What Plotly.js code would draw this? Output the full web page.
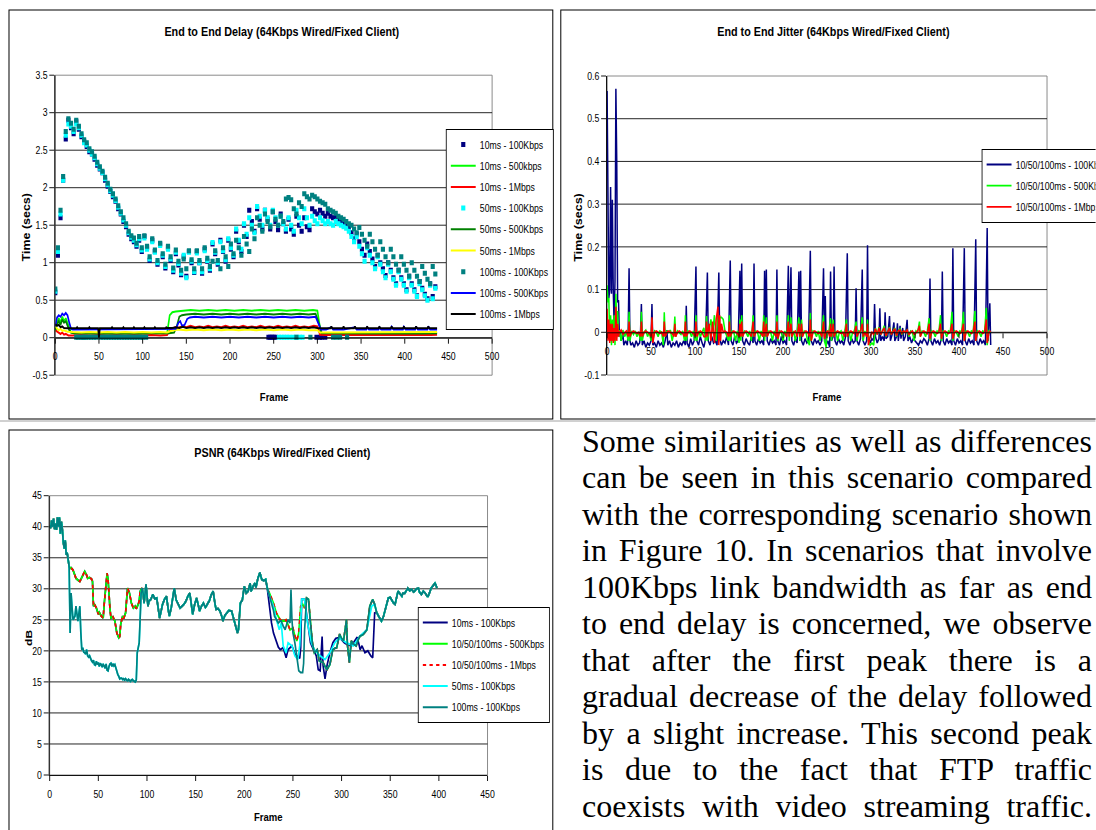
<!DOCTYPE html>
<html>
<head>
<meta charset="utf-8">
<script src="https://cdn.plot.ly/plotly-3.0.1.min.js"></script>
<style>
  html, body { margin: 0; padding: 0; background: #fff; }
  #wrap { position: relative; width: 1096px; height: 830px; overflow: hidden; }
  #chart { position: absolute; left: 0; top: 0; height: 830px; transform-origin: 0 0; }
  #para { position: absolute; left: 582px; top: 422.6px; width: 510px; z-index: 10;
          font-family: "Liberation Serif", "Times New Roman", serif; font-size: 32px;
          line-height: 36.5px; color: #000; }
  #para .ln { text-align: justify; text-align-last: justify; }
</style>
</head>
<body>
<div id="wrap">
  <div id="chart"></div>
  <div id="para"></div>
</div>
<script>
// ---------------- DATA ----------------
// Chart 1: End to End Delay
const delayFrames = [0,3,6,9,12,15,18,21,24,27,30,33,36,39,42,45,48,51,54,57,60,63,66,69,72,75,78,81,84,87,90,93,96,99,102,105,108,111,114,117,120,123,126,129,132,135,138,141,144,147,150,153,156,159,162,165,168,171,174,177,180,183,186,189,192,195,198,201,204,207,210,213,216,219,222,225,228,231,234,237,240,243,246,249,252,255,258,261,264,267,270,273,276,279,282,285,288,291,294,297,300,303,306,309,312,315,318,321,324,327,330,333,336,339,342,345,348,351,354,357,360,363,366,369,372,375,378,381,384,387,390,393,396,399,402,405,408,411,414,417,420,423,426,429,432,435];
const delay10ms100k = [0.6,1.1,1.6,2.1,2.65,2.9,2.8,2.72,2.88,2.78,
  2.68,2.62,2.55,2.48,2.45,2.38,2.3,2.25,2.2,2.1,
  2.02,1.95,1.88,1.82,1.72,1.65,1.55,1.48,1.38,1.32,
  1.28,1.22,1.3,1.15,1.35,1.2,1.03,1.3,1.15,0.98,
  1.25,1.08,0.93,1.2,1.03,0.88,1.12,0.97,0.84,1.08,
  0.82,1.15,1.0,0.87,1.15,1.0,0.86,1.18,1.02,0.9,
  1.25,1.12,0.98,1.3,1.15,1.02,1.3,1.18,1.08,1.42,
  1.28,1.15,1.5,1.35,1.7,1.55,1.42,1.72,1.58,1.45,
  1.7,1.58,1.45,1.68,1.55,1.44,1.65,1.52,1.42,1.58,
  1.45,1.38,1.62,1.5,1.42,1.6,1.48,1.44,1.72,1.68,
  1.65,1.7,1.66,1.62,1.66,1.62,1.6,1.62,1.58,1.55,
  1.52,1.5,1.48,1.4,1.32,1.38,1.28,1.18,1.1,1.25,
  1.15,1.05,0.95,1.1,1.0,0.92,0.83,1.0,0.9,0.8,
  0.72,0.9,0.8,0.72,0.64,0.82,0.72,0.64,0.56,0.75,
  0.66,0.58,0.52,0.72,0.55,0.68];
const delay50ms100k = [0.62,1.15,1.65,2.1,2.7,2.85,2.82,2.75,2.85,2.8,
  2.7,2.6,2.57,2.5,2.45,2.4,2.32,2.26,2.2,2.12,
  2.04,1.96,1.9,1.83,1.74,1.66,1.57,1.5,1.4,1.34,
  1.3,1.24,1.32,1.17,1.33,1.18,1.05,1.28,1.14,1.0,
  1.23,1.1,0.95,1.18,1.05,0.9,1.14,0.99,0.86,1.1,
  0.8,1.14,1.02,0.88,1.13,1.0,0.88,1.16,1.03,0.92,
  1.27,1.14,1.0,1.28,1.16,1.04,1.32,1.2,1.1,1.45,
  1.3,1.18,1.52,1.38,1.6,1.5,1.4,1.75,1.62,1.5,
  1.7,1.6,1.5,1.7,1.6,1.5,1.62,1.52,1.45,1.6,
  1.5,1.42,1.7,1.6,1.52,1.72,1.6,1.5,1.62,1.56,
  1.52,1.6,1.56,1.52,1.55,1.52,1.5,1.55,1.52,1.5,
  1.48,1.46,1.42,1.35,1.28,1.35,1.22,1.12,1.02,1.2,
  1.1,1.0,0.92,1.08,0.98,0.88,0.8,0.98,0.88,0.78,
  0.7,0.88,0.78,0.7,0.62,0.8,0.7,0.62,0.55,0.72,
  0.64,0.56,0.5,0.7,0.52,0.66];
const delay100ms100k = [0.65,1.2,1.7,2.15,2.75,2.92,2.86,2.78,2.9,2.82,
  2.72,2.64,2.6,2.52,2.48,2.42,2.34,2.28,2.22,2.14,
  2.06,1.98,1.92,1.85,1.76,1.68,1.6,1.52,1.42,1.36,
  1.33,1.26,1.35,1.2,1.36,1.22,1.08,1.32,1.17,1.03,
  1.26,1.12,0.98,1.22,1.08,0.93,1.17,1.02,0.9,1.05,
  0.92,1.16,1.04,0.92,1.16,1.03,0.92,1.2,1.06,0.95,
  1.02,1.16,1.03,0.92,1.2,1.08,0.95,1.25,1.12,1.3,
  1.2,1.1,1.35,1.25,1.15,1.45,1.32,1.6,1.5,1.42,
  1.65,1.55,1.48,1.68,1.58,1.5,1.62,1.55,1.85,1.87,
  1.84,1.72,1.65,1.8,1.75,1.92,1.88,1.85,1.9,1.88,
  1.85,1.82,1.8,1.78,1.72,1.7,1.68,1.66,1.62,1.6,
  1.58,1.55,1.52,1.5,1.45,1.4,1.47,1.38,1.3,1.22,
  1.38,1.28,1.18,1.1,1.28,1.18,1.08,1.0,1.18,1.08,
  0.98,0.9,1.08,0.98,0.9,0.82,1.0,0.9,0.82,0.75,
  0.95,0.86,0.78,0.72,0.95,0.85];
// frames recorded at (near) zero delay
const lost10ms100k = [[244,0.005],[246,0.005],[248,0.005],[250,0.005],[252,0.005],[299,0.005],[303,0.005],[305,0.005],[309,0.005]];
const lost50ms100k = [[256,0.005],[259,0.005],[262,0.005],[265,0.005],[268,0.005],[272,0.005],[276,0.005],[280,0.005],[283,0.005]];
const lost100ms100k = [[24,0.005],[26,0.005],[29,0.005],[31,0.005],[33,0.005],[35,0.005],[38,0.005],[41,0.005],[44,0.005],[47,0.005],[52,0.005],[55,0.005],[58,0.005],[61,0.005],[64,0.005],[67,0.005],[70,0.005],[73,0.005],[76,0.005],[79,0.005],[82,0.005],[85,0.005],[88,0.005],[91,0.005],[94,0.005],[97,0.005],[100,0.005],[104,0.005],[276,0.005],[292,0.005],[318,0.005],[322,0.005],[326,0.005],[334,0.005]];

const delay10ms500k = [[0,0.08],[2,0.2],[4,0.26],[6,0.2],[8,0.28],[10,0.22],[12,0.26],[14,0.2],[16,0.12],[18,0.07],[22,0.055],[30,0.055],[40,0.05],[50,0.055],[60,0.05],[70,0.055],[80,0.05],[90,0.055],[100,0.05],[110,0.055],[120,0.05],[128,0.06],[131,0.3],[134,0.34],[138,0.35],[145,0.36],[155,0.37],[165,0.36],[175,0.37],[185,0.36],[195,0.37],[205,0.36],[215,0.37],[225,0.36],[235,0.37],[245,0.36],[255,0.37],[265,0.36],[275,0.37],[285,0.36],[295,0.37],[300,0.36],[304,0.06],[310,0.055],[320,0.06],[330,0.055],[340,0.06],[350,0.055],[360,0.06],[370,0.055],[380,0.06],[390,0.055],[400,0.06],[410,0.055],[420,0.06],[430,0.055],[437,0.06]];
const delay10ms1M = [[0,0.1],[2,0.08],[4,0.06],[6,0.05],[8,0.07],[10,0.04],[12,0.05],[15,0.03],[20,0.03],[30,0.035],[40,0.03],[50,0.035],[60,0.03],[70,0.035],[80,0.03],[90,0.035],[100,0.03],[110,0.035],[120,0.03],[128,0.035],[131,0.1],[134,0.12],[137,0.14],[140,0.13],[145,0.15],[150,0.14],[155,0.16],[160,0.14],[165,0.15],[170,0.14],[175,0.16],[180,0.14],[185,0.15],[190,0.14],[195,0.16],[200,0.14],[205,0.15],[210,0.14],[215,0.16],[220,0.14],[225,0.15],[230,0.14],[235,0.16],[240,0.14],[245,0.15],[250,0.14],[255,0.16],[260,0.14],[265,0.15],[270,0.14],[275,0.16],[280,0.14],[285,0.15],[290,0.14],[296,0.16],[300,0.15],[303,0.04],[310,0.035],[320,0.04],[330,0.035],[340,0.04],[350,0.035],[360,0.04],[370,0.035],[380,0.04],[390,0.035],[400,0.04],[410,0.035],[420,0.04],[430,0.035],[437,0.04]];
const delay50ms500k = [[0,0.1],[2,0.18],[4,0.22],[6,0.17],[8,0.24],[10,0.2],[12,0.22],[14,0.16],[16,0.1],[18,0.07],[22,0.06],[30,0.06],[40,0.055],[50,0.06],[60,0.055],[70,0.06],[80,0.055],[90,0.06],[100,0.055],[110,0.06],[120,0.055],[130,0.06],[136,0.07],[139,0.15],[142,0.28],[145,0.3],[150,0.31],[160,0.32],[170,0.31],[180,0.32],[190,0.31],[200,0.32],[210,0.31],[220,0.32],[230,0.31],[240,0.32],[250,0.31],[260,0.32],[270,0.31],[280,0.32],[290,0.31],[298,0.32],[302,0.18],[305,0.06],[315,0.06],[330,0.055],[345,0.06],[360,0.055],[375,0.06],[390,0.055],[405,0.06],[420,0.055],[437,0.06]];
const delay50ms1M = [[0,0.15],[2,0.12],[4,0.1],[6,0.12],[8,0.09],[10,0.1],[14,0.08],[20,0.075],[30,0.07],[40,0.075],[50,0.07],[60,0.075],[70,0.07],[80,0.075],[90,0.07],[100,0.075],[110,0.07],[120,0.075],[128,0.07],[132,0.09],[136,0.1],[140,0.11],[150,0.1],[160,0.11],[170,0.1],[180,0.11],[190,0.1],[200,0.11],[210,0.1],[220,0.11],[230,0.1],[240,0.11],[250,0.1],[260,0.11],[270,0.1],[280,0.11],[290,0.1],[300,0.1],[303,0.07],[310,0.07],[320,0.075],[330,0.07],[340,0.075],[350,0.07],[360,0.075],[370,0.07],[380,0.075],[390,0.07],[400,0.075],[410,0.07],[420,0.075],[430,0.07],[437,0.075]];
const delay100ms500k = [[0,0.15],[2,0.27],[4,0.3],[6,0.28],[8,0.32],[10,0.3],[12,0.33],[14,0.3],[16,0.2],[18,0.12],[20,0.11],[30,0.11],[40,0.115],[50,0.11],[60,0.115],[70,0.11],[80,0.115],[90,0.11],[100,0.115],[110,0.11],[120,0.115],[130,0.11],[138,0.12],[141,0.2],[143,0.22],[145,0.16],[148,0.17],[151,0.25],[154,0.27],[160,0.28],[170,0.27],[180,0.28],[190,0.27],[200,0.28],[210,0.27],[220,0.28],[230,0.27],[240,0.28],[250,0.27],[260,0.28],[270,0.27],[280,0.28],[290,0.27],[298,0.28],[301,0.2],[304,0.11],[310,0.11],[316,0.14],[318,0.11],[330,0.11],[343,0.14],[345,0.11],[356,0.11],[357,0.14],[359,0.11],[370,0.11],[371,0.14],[373,0.11],[384,0.11],[385,0.145],[387,0.11],[398,0.11],[399,0.145],[401,0.11],[412,0.11],[413,0.15],[415,0.11],[426,0.11],[427,0.15],[429,0.11],[437,0.11]];
const delay100ms1M = [[0,0.18],[2,0.16],[4,0.17],[6,0.14],[8,0.15],[10,0.13],[14,0.125],[20,0.125],[24,0.125],[25,0.14],[26,0.125],[38,0.125],[39,0.14],[40,0.125],[49,0.125],[50,0.0],[51,0.125],[64,0.125],[65,0.14],[66,0.125],[77,0.125],[78,0.14],[79,0.125],[89,0.125],[90,0.14],[91,0.125],[101,0.125],[102,0.14],[103,0.125],[113,0.125],[114,0.14],[115,0.125],[126,0.125],[127,0.14],[128,0.13],[134,0.13],[138,0.14],[142,0.13],[146,0.145],[150,0.13],[155,0.14],[160,0.13],[165,0.14],[170,0.13],[175,0.14],[180,0.13],[185,0.14],[190,0.13],[195,0.14],[200,0.13],[205,0.14],[210,0.13],[215,0.14],[220,0.13],[225,0.14],[230,0.13],[235,0.14],[240,0.13],[245,0.14],[250,0.13],[255,0.14],[260,0.13],[265,0.14],[270,0.13],[275,0.14],[280,0.13],[285,0.14],[290,0.13],[295,0.14],[300,0.13],[303,0.125],[315,0.125],[316,0.15],[317,0.125],[329,0.125],[330,0.15],[331,0.125],[342,0.125],[343,0.15],[344,0.125],[356,0.125],[357,0.15],[358,0.125],[370,0.125],[371,0.15],[372,0.125],[384,0.125],[385,0.15],[386,0.125],[398,0.125],[399,0.15],[400,0.125],[412,0.125],[413,0.15],[414,0.125],[426,0.125],[427,0.15],[428,0.125],[437,0.125]];

const delayYTicks = [-0.5,0,0.5,1,1.5,2,2.5,3,3.5];
const delayYLabels = ['-0.5','0','0.5','1','1.5','2','2.5','3','3.5'];

// Chart 2: End to End Jitter
const jitter100k = [[0,0.565],[1,0.3],[2,0.08],[3,0.1],[4,0.34],[5,0.09],[6,0.31],[7,0.1],[8,0.02],[9,0.12],[10,0.57],[11,0.4],[12,0.07],[13,0.075],[14,-0.01],[15,0.005],[16,-0.02],[18,-0.005],[19,-0.03],[21,-0.02],[23,-0.03],[24,0.0],[25,0.15],[26,-0.02],[27,-0.03],[29,-0.025],[31,-0.035],[33,-0.02],[35,-0.03],[37,-0.025],[38,0.0],[39,0.066],[40,-0.03],[42,-0.02],[44,-0.035],[46,-0.025],[48,-0.03],[50,-0.02],[51,0.066],[52,-0.03],[54,-0.025],[56,-0.035],[58,-0.02],[60,-0.03],[62,-0.025],[64,-0.035],[66,-0.02],[68,0.005],[69,-0.03],[71,-0.02],[73,-0.035],[75,-0.025],[77,-0.03],[79,-0.02],[81,-0.035],[83,-0.025],[85,-0.03],[87,-0.02],[89,-0.03],[90,0.062],[91,-0.025],[93,-0.035],[95,-0.015],[97,-0.03],[99,-0.02],[101,0.154],[102,-0.02],[104,-0.03],[106,-0.01],[108,-0.025],[110,-0.035],[112,-0.015],[114,0.14],[115,-0.02],[117,-0.03],[119,-0.01],[121,-0.025],[123,-0.02],[125,-0.03],[127,0.14],[128,-0.015],[130,-0.03],[132,-0.02],[134,-0.025],[136,-0.01],[138,-0.03],[140,0.168],[141,-0.02],[143,-0.03],[145,-0.01],[147,-0.025],[149,-0.02],[151,0.144],[152,-0.01],[153,0.161],[154,-0.02],[156,-0.03],[158,-0.015],[160,-0.025],[162,-0.03],[164,-0.01],[166,-0.025],[167,0.161],[168,-0.02],[170,-0.03],[172,-0.015],[174,-0.025],[176,-0.02],[178,-0.03],[179,0.144],[180,-0.01],[181,0.147],[182,-0.02],[184,-0.03],[186,-0.015],[188,-0.025],[190,-0.02],[192,-0.03],[193,0.147],[194,-0.02],[196,-0.03],[198,-0.01],[200,-0.025],[202,-0.02],[204,-0.03],[206,0.156],[207,-0.01],[209,0.152],[210,-0.02],[212,-0.03],[214,-0.015],[216,-0.025],[218,0.142],[219,-0.02],[220,0.144],[221,-0.02],[223,-0.03],[225,-0.015],[227,-0.025],[229,-0.02],[231,0.191],[232,-0.02],[234,-0.03],[236,-0.015],[238,-0.025],[240,-0.02],[242,-0.03],[244,-0.02],[246,0.15],[247,-0.01],[248,0.085],[249,-0.03],[251,-0.02],[253,-0.035],[254,0.142],[255,-0.02],[257,-0.01],[258,0.154],[259,-0.02],[261,-0.03],[263,-0.015],[265,-0.025],[267,-0.02],[269,-0.03],[271,-0.01],[273,0.185],[274,-0.02],[276,-0.03],[278,-0.015],[280,-0.025],[282,-0.02],[283,0.103],[284,-0.02],[286,-0.03],[288,-0.015],[290,0.147],[291,-0.02],[293,-0.03],[295,-0.02],[296,0.204],[297,-0.01],[299,-0.025],[301,-0.015],[303,-0.02],[304,0.066],[305,-0.01],[307,-0.025],[309,-0.015],[310,0.056],[311,-0.02],[313,-0.01],[315,-0.02],[316,0.047],[317,-0.015],[319,-0.01],[321,0.038],[322,-0.02],[324,-0.005],[326,0.023],[327,-0.02],[329,-0.01],[330,0.021],[331,-0.02],[333,0.015],[334,-0.015],[336,0.01],[337,-0.02],[339,-0.01],[341,0.029],[342,-0.02],[344,-0.01],[346,-0.025],[348,-0.015],[350,-0.02],[352,-0.025],[354,-0.03],[356,-0.02],[358,-0.025],[360,-0.015],[362,-0.02],[364,-0.03],[366,-0.015],[367,0.126],[368,-0.02],[370,-0.03],[372,-0.015],[374,-0.025],[376,-0.02],[378,-0.03],[380,-0.015],[381,0.142],[382,-0.02],[384,-0.03],[386,-0.015],[388,-0.025],[390,-0.02],[392,-0.03],[393,0.197],[394,-0.02],[396,-0.03],[398,-0.015],[400,-0.025],[402,-0.02],[404,-0.03],[406,0.197],[407,-0.02],[409,-0.03],[411,-0.015],[413,-0.025],[415,-0.02],[417,-0.03],[419,0.218],[420,-0.02],[422,-0.03],[424,-0.015],[426,-0.025],[428,-0.02],[430,-0.03],[432,0.244],[433,-0.02],[435,0.068],[436,-0.03]];
const jitter500k = [[0,0.11],[1,0.07],[2,0.08],[3,-0.02],[4,0.04],[5,-0.03],[6,0.03],[7,-0.02],[8,0.04],[9,-0.03],[10,0.09],[11,0.02],[12,0.05],[13,-0.01],[14,0.005],[16,-0.02],[18,0.005],[20,-0.01],[22,0.0],[24,-0.02],[25,0.048],[26,-0.02],[28,0.003],[30,-0.005],[32,0.003],[34,-0.01],[36,0.0],[38,-0.02],[39,0.048],[40,-0.02],[42,0.0],[44,0.005],[46,-0.01],[48,0.0],[50,-0.02],[51,0.03],[52,-0.02],[54,0.003],[56,0.0],[58,-0.01],[60,0.003],[62,0.0],[64,-0.03],[65,0.047],[66,-0.01],[68,0.003],[70,0.0],[72,0.005],[74,-0.02],[76,0.0],[77,0.037],[78,-0.01],[80,0.003],[82,0.0],[84,-0.005],[86,0.003],[88,-0.02],[89,0.04],[90,-0.02],[92,0.003],[94,0.0],[96,-0.01],[98,0.003],[100,-0.02],[101,0.04],[102,-0.02],[104,0.003],[106,-0.01],[108,0.0],[110,0.01],[112,-0.02],[113,0.038],[114,-0.02],[116,0.003],[118,0.03],[120,0.0],[122,0.04],[124,-0.02],[126,0.045],[127,0.02],[128,0.035],[130,0.035],[132,0.03],[134,0.003],[136,-0.01],[138,-0.02],[139,0.04],[140,-0.02],[142,0.003],[144,0.0],[146,-0.02],[148,0.003],[150,-0.025],[151,0.03],[152,-0.02],[153,0.04],[154,-0.01],[156,0.003],[158,0.0],[160,-0.01],[162,0.003],[164,-0.02],[166,0.04],[167,-0.01],[169,0.003],[171,0.0],[173,-0.02],[175,0.003],[177,-0.01],[178,0.04],[179,-0.02],[181,0.035],[182,-0.01],[184,0.003],[186,0.0],[188,-0.02],[190,0.003],[192,-0.01],[193,0.04],[194,-0.02],[196,0.003],[198,0.0],[200,-0.02],[202,0.003],[204,-0.01],[206,0.04],[207,-0.02],[209,0.035],[210,-0.01],[212,0.003],[214,-0.02],[216,0.003],[218,0.035],[219,-0.02],[221,0.03],[222,-0.01],[224,0.003],[226,0.0],[228,-0.02],[230,-0.03],[231,0.045],[232,-0.02],[234,0.003],[236,0.0],[238,-0.01],[240,0.003],[242,-0.02],[244,0.003],[246,0.04],[247,-0.02],[249,-0.035],[250,0.003],[252,0.0],[254,0.033],[255,-0.02],[257,0.03],[258,-0.01],[260,0.003],[262,-0.02],[264,0.0],[266,0.003],[268,-0.02],[270,0.0],[272,0.03],[273,-0.01],[275,0.003],[277,-0.02],[279,0.0],[281,0.003],[283,0.025],[284,-0.02],[286,0.003],[288,0.0],[290,0.035],[291,-0.02],[293,0.003],[295,-0.01],[296,0.03],[297,-0.02],[299,-0.03],[301,-0.025],[303,-0.03],[305,0.01],[307,-0.005],[309,0.012],[311,-0.005],[313,0.003],[315,0.015],[317,-0.01],[319,0.003],[321,0.012],[323,-0.005],[325,0.003],[327,0.01],[329,-0.01],[331,0.003],[333,0.008],[335,-0.005],[337,0.003],[339,0.0],[341,0.005],[343,-0.01],[345,0.003],[347,0.0],[349,-0.02],[351,0.003],[353,0.0],[355,0.025],[356,-0.01],[358,0.003],[360,0.0],[362,-0.01],[364,0.003],[366,0.033],[367,-0.02],[369,0.003],[371,0.0],[373,-0.01],[375,0.003],[377,0.0],[379,0.04],[380,-0.02],[382,0.003],[384,0.0],[386,-0.01],[388,0.003],[390,0.0],[392,0.048],[393,-0.02],[395,0.003],[397,0.0],[399,-0.01],[401,0.003],[403,0.0],[405,0.048],[406,-0.02],[408,0.003],[410,0.0],[412,-0.01],[414,0.003],[416,0.0],[418,0.05],[419,-0.02],[421,0.003],[423,0.0],[425,-0.01],[427,0.003],[429,0.0],[431,0.057],[432,-0.03],[434,0.003],[436,0.0]];
const jitter1M = [[0,0.055],[1,-0.02],[2,0.03],[3,-0.025],[4,0.02],[5,-0.02],[6,0.02],[7,-0.025],[8,0.01],[9,-0.02],[10,0.06],[11,-0.02],[12,0.02],[13,-0.01],[14,0.0],[16,0.005],[18,-0.005],[20,0.0],[22,0.003],[24,-0.01],[25,0.025],[26,-0.01],[28,0.0],[30,0.003],[32,0.0],[34,-0.003],[36,0.0],[38,-0.01],[39,0.025],[40,-0.01],[42,0.0],[44,0.003],[46,0.0],[48,-0.003],[50,-0.01],[51,0.035],[52,-0.025],[54,0.0],[56,0.003],[58,0.0],[60,-0.003],[62,0.0],[64,-0.01],[65,0.025],[66,-0.01],[68,0.0],[70,0.003],[72,0.0],[74,-0.003],[76,-0.01],[77,0.02],[78,-0.01],[80,0.0],[82,0.003],[84,0.0],[86,-0.003],[88,-0.01],[89,0.025],[90,-0.01],[92,0.0],[94,0.003],[96,0.0],[98,-0.003],[100,-0.01],[101,0.025],[102,-0.01],[104,0.0],[106,0.003],[108,0.0],[110,-0.01],[112,-0.01],[113,0.025],[114,-0.01],[116,0.02],[118,-0.02],[120,0.025],[122,-0.025],[124,0.03],[126,0.06],[127,-0.03],[128,0.04],[129,-0.02],[130,0.02],[132,0.0],[134,0.003],[136,0.0],[138,-0.01],[139,0.025],[140,-0.01],[142,0.0],[144,0.003],[146,0.0],[148,-0.003],[150,-0.01],[151,0.02],[152,-0.01],[153,0.025],[154,-0.01],[156,0.0],[158,0.003],[160,0.0],[162,-0.003],[164,-0.01],[166,0.025],[167,-0.01],[169,0.0],[171,0.003],[173,0.0],[175,-0.003],[177,-0.01],[178,0.025],[179,-0.01],[181,0.02],[182,-0.01],[184,0.0],[186,0.003],[188,0.0],[190,-0.003],[192,-0.01],[193,0.025],[194,-0.015],[196,0.0],[198,0.003],[200,0.0],[202,-0.003],[204,-0.01],[206,0.025],[207,-0.01],[209,0.02],[210,-0.01],[212,0.0],[214,0.003],[216,-0.01],[218,0.02],[219,-0.01],[221,0.02],[222,-0.01],[224,0.0],[226,0.003],[228,0.0],[230,-0.01],[231,0.03],[232,-0.02],[234,0.0],[236,0.003],[238,0.0],[240,-0.003],[242,0.0],[244,-0.01],[246,0.025],[247,-0.015],[249,0.0],[251,0.003],[253,-0.01],[254,0.02],[255,-0.01],[257,0.02],[258,-0.01],[260,0.0],[262,0.003],[264,0.0],[266,-0.003],[268,0.0],[270,-0.01],[272,0.02],[273,-0.01],[275,0.0],[277,0.003],[279,0.0],[281,-0.003],[283,0.015],[284,-0.01],[286,0.0],[288,0.003],[290,0.02],[291,-0.01],[293,0.0],[295,-0.01],[296,0.02],[297,-0.03],[298,-0.02],[299,-0.01],[301,0.0],[303,-0.005],[305,0.008],[307,-0.005],[309,0.01],[311,-0.005],[313,0.003],[315,0.01],[317,-0.008],[319,0.003],[321,0.01],[323,-0.005],[325,0.003],[327,0.008],[329,-0.008],[331,0.003],[333,0.005],[335,-0.003],[337,0.003],[339,0.0],[341,0.005],[343,-0.005],[345,0.0],[347,0.003],[349,-0.005],[351,0.0],[353,0.003],[355,0.015],[356,-0.01],[358,0.0],[360,0.003],[362,0.0],[364,-0.003],[366,0.02],[367,-0.015],[369,0.0],[371,0.003],[373,0.0],[375,-0.003],[377,0.0],[379,0.02],[380,-0.015],[382,0.0],[384,0.003],[386,0.0],[388,-0.003],[390,0.0],[392,0.02],[393,-0.015],[395,0.0],[397,0.003],[399,0.0],[401,-0.003],[403,0.0],[405,0.02],[406,-0.02],[408,0.0],[410,0.003],[412,0.0],[414,-0.003],[416,0.0],[418,0.025],[419,-0.02],[421,0.0],[423,0.003],[425,0.0],[427,-0.003],[429,0.0],[431,0.03],[432,-0.025],[434,0.0],[436,0.003]];

const jitterYTicks = [-0.1,0,0.1,0.2,0.3,0.4,0.5,0.6];
const jitterYLabels = ['-0.1','0','0.1','0.2','0.3','0.4','0.5','0.6'];

// Chart 3: PSNR
const psnrStart = [[0,40.2],[1,39.8],[2,41],[3,40],[4,41.3],[5,39.6],[6,40.5],[7,39.5],[8,41.5],[9,40],[10,41.5],[11,38.9],[12,40.8],[13,39.6],[14,37.5],[15,36.5],[16,37.8],[17,35.5],[18,35.8],[19,34.8],[20,33.6]];
const psnrDropEarly = [[21,22.9],[22,29.3],[23,27],[24,25],[26,25.6],[27,27.2],[29,24.8],[31,27.2],[32,23],[33,20.2],[34,20.5],[35,19.8],[36,19.7],[37,19.5],[38,20.2],[39,19.2],[40,19],[41,19.2],[43,18.4],[44,18.2],[45,18.5],[46,17.8],[47,17.7],[48,18.3],[49,17.8],[50,18.1],[51,17.5],[52,17.9],[53,17.8],[54,17.4],[55,17.8],[56,17.6],[57,17.2],[58,17.9],[59,16.9],[60,16.8],[61,17.5],[62,17.9],[63,18],[64,17.5],[65,17.9],[66,17.6],[67,17.8],[68,17.2],[69,16.6],[70,16.2],[71,15.9],[72,15.5],[73,15.6],[74,15.6],[75,15.4],[76,15.5],[77,15.3],[78,15.5],[79,15.3],[80,15.2],[81,15.4],[82,15.3],[83,15.1],[84,15.3],[85,15.4],[86,15.2],[87,15.1],[88,15],[89,15.3],[90,19.7],[92,21.3],[93,25.6],[94,29.3]];
const psnrUpperEarly = [[21,33.3],[22,33.4],[24,33],[25,32.5],[26,32.2],[27,31.7],[29,31.4],[31,31.2],[32,31.5],[34,32.2],[36,32.8],[38,32.2],[39,31.7],[41,31.8],[43,31.6],[44,31.2],[45,27.2],[46,27.5],[48,26.9],[50,25.9],[51,26.2],[53,25.6],[55,25.3],[56,27.5],[58,30.4],[59,32.5],[60,31.5],[61,28.3],[62,26.7],[63,25.3],[65,25.5],[67,24.8],[69,22.9],[71,22.1],[72,22.3],[73,24.3],[75,25.6],[76,25.2],[78,26.1],[80,30.1],[81,29.8],[82,29.3],[84,27.7],[86,26.9],[88,27.2],[89,26.8],[91,27.5],[92,28],[93,29.6]];
const psnrMid = [[95,30.1],[96,29.3],[97,27.7],[98,29],[99,30.7],[101,27.2],[102,28],[104,28.3],[106,29.1],[108,28.4],[110,28.5],[113,25.3],[115,26.5],[116,27.5],[118,28.3],[120,28.8],[122,26.5],[123,25.6],[125,27],[128,30.1],[130,28.2],[132,27.5],[134,26.9],[136,27.2],[138,27.5],[140,28],[142,28.8],[144,29.3],[146,27],[147,25.9],[149,27.5],[151,28.5],[153,27.2],[154,26.4],[156,27.2],[158,27.7],[160,27],[161,27.2],[163,27.8],[164,28],[166,29],[168,29.6],[170,27.5],[171,26.7],[173,26.8],[175,26.4],[177,25.5],[178,24.8],[180,25.7],[182,26.1],[184,26.5],[187,26.4],[189,25.2],[190,24.3],[192,23.5],[193,22.9],[194,23.4],[196,27.7],[198,28.2],[200,30.4],[202,29.3],[204,29.6],[206,30.9],[207,29.6],[209,30.4],[211,30.9],[212,30.2],[214,31.7],[216,32.6],[218,31.5],[220,31.3],[222,31.5]];
const psnrLate10ms100k = [[224,29.6],[226,27.2],[228,24.5],[230,22.9],[233,21.6],[235,20.6],[237,20.2],[240,20.5],[243,18.9],[245,20.2],[247,20.5],[249,20.8],[252,19.5],[255,19],[257,18.8],[258,20.5],[259,28.3],[262,28.3],[265,24.5],[268,21.3],[271,20.2],[274,19.2],[276,17],[278,16.8],[280,22.3],[281,17.6],[283,15.5],[285,17.6],[288,19.7],[291,21.3],[294,22],[297,22.1],[300,21.8],[303,21.3],[306,21],[310,20.8],[313,21.5],[316,22.2],[318,21],[319,20.2],[321,20.8],[324,19.7],[327,20],[330,19.2],[332,18.9],[334,26.1]];
const psnrLate500k1M = [[224,29.9],[226,29.3],[230,27.7],[233,26.1],[237,25],[240,24.8],[243,25],[247,23.4],[250,23.7],[252,22.4],[254,21.6],[256,22.9],[258,27.2],[260,27.5],[262,26.9],[264,28.5],[266,28.3],[268,24.5],[270,21.3],[272,19.7],[275,20.2],[277,18.4],[279,18.2],[281,18.1],[283,17.5],[285,17],[288,17.8],[291,20.2],[293,20.4],[295,20.5],[298,22.7],[300,22],[302,21.6],[305,25],[306,21],[308,18.1],[310,21.6],[313,21],[315,20.8],[317,21.8],[319,22.4],[322,22.6],[324,23],[326,23.4],[329,27.2],[332,28.3],[334,27.5]];
const psnrLate50ms100k = [[224,29.9],[226,28.8],[230,27.2],[233,25],[236,23.4],[238,24.5],[240,20.8],[243,19.7],[245,21.3],[249,20.8],[252,19.2],[255,18.6],[257,20.8],[259,28.3],[262,28.3],[265,24.5],[269,21.3],[272,20.2],[278,19.2],[283,18.6],[288,19.7],[293,21.3],[298,22.1],[305,21.3],[312,20.8],[319,22.4],[326,23.4],[331,27.2],[334,27.5]];
const psnrLate100ms100k = [[224,29.9],[226,28.8],[228,27.5],[230,26.5],[231,25.6],[233,25],[235,24.5],[237,24.8],[238,24.8],[240,24],[242,23.4],[244,24.5],[245,25],[247,24.5],[248,29.9],[249,25],[250,22.9],[252,21.3],[254,18.9],[256,16.8],[258,16.5],[260,16.5],[261,18],[262,23.4],[264,28.5],[266,28.3],[268,24.5],[270,21.3],[272,19.7],[275,20.2],[277,18.4],[279,18.2],[281,18.1],[283,17.5],[285,17],[288,17.8],[291,20.2],[293,20.4],[295,20.5],[298,22.7],[300,22],[302,21.6],[305,25],[306,21],[308,18.1],[310,21.6],[313,21],[315,20.8],[317,21.8],[319,22.4],[322,22.6],[324,23],[326,23.4],[329,27.2],[332,28.3],[334,27.5]];
const psnrEnd = [[336,26.2],[338,25.6],[341,24.8],[343,25.5],[344,26.1],[346,27.5],[348,28.5],[350,28.6],[351,28.3],[353,27.8],[355,27.5],[357,28.8],[358,29.6],[360,29.2],[362,28.8],[363,29.3],[365,29.3],[367,29.8],[368,30.1],[370,29.7],[372,29.9],[374,29.5],[375,29.6],[377,30],[379,30.1],[380,29.5],[382,29.1],[384,29.6],[386,29.3],[388,28.8],[389,28.8],[391,29.6],[392,30.1],[394,30.5],[396,30.9],[397,30.6],[398,30.1]];

const paragraphLines = [
  'Some similarities as well as differences',
  'can be seen in this scenario compared',
  'with the corresponding scenario shown',
  'in Figure 10. In scenarios that involve',
  '100Kbps link bandwidth as far as end',
  'to end delay is concerned, we observe',
  'that after the first peak there is a',
  'gradual decrease of the delay followed',
  'by a slight increase. This second peak',
  'is due to the fact that FTP traffic',
  'coexists with video streaming traffic.'
];

// ---------------- BUILD ----------------
const FONT = '"Liberation Sans", Arial, sans-serif';
const W = 1096, H = 830;
const SX = 0.83;                 // horizontal condensing of the chart drawing
const LW = W / SX;               // layout width before condensing
const PX = x => x / W;
const PY = y => 1 - y / H;
const xs = p => p.map(d => d[0]);
const ys = p => p.map(d => d[1]);

const chartDiv = document.getElementById('chart');
chartDiv.style.width = LW + 'px';
chartDiv.style.transform = 'scaleX(' + SX + ')';

const traces = [];
function markerTrace(name, vals, lost, color, grp) {
  traces.push({
    type: 'scatter', mode: 'markers', name: name,
    x: delayFrames.concat(xs(lost)), y: vals.concat(ys(lost)),
    marker: { symbol: 'square', size: 5, color: color, line: { width: 0 } },
    xaxis: 'x', yaxis: 'y', legend: 'legend', legendgroup: grp
  });
}
function lineTrace(name, pts, color, ax, ay, leg, grp, width, dash) {
  traces.push({
    type: 'scatter', mode: 'lines', name: name,
    x: xs(pts), y: ys(pts),
    line: { color: color, width: width, dash: dash || 'solid' },
    xaxis: ax, yaxis: ay, legend: leg, legendgroup: grp
  });
}

// Chart 1
markerTrace('10ms - 100Kbps', delay10ms100k, lost10ms100k, '#000080', 'a1');
lineTrace('10ms - 500kbps', delay10ms500k, '#00FF00', 'x', 'y', 'legend', 'a2', 2);
lineTrace('10ms - 1Mbps', delay10ms1M, '#FF0000', 'x', 'y', 'legend', 'a3', 2);
markerTrace('50ms - 100Kbps', delay50ms100k, lost50ms100k, '#00FFFF', 'a4');
lineTrace('50ms - 500Kbps', delay50ms500k, '#008000', 'x', 'y', 'legend', 'a5', 2);
lineTrace('50ms - 1Mbps', delay50ms1M, '#FFFF00', 'x', 'y', 'legend', 'a6', 2);
markerTrace('100ms - 100Kbps', delay100ms100k, lost100ms100k, '#008080', 'a7');
lineTrace('100ms - 500Kbps', delay100ms500k, '#0000FF', 'x', 'y', 'legend', 'a8', 2);
lineTrace('100ms - 1Mbps', delay100ms1M, '#000000', 'x', 'y', 'legend', 'a9', 2);

// Chart 2
lineTrace('10/50/100ms - 100Kbps', jitter100k, '#000080', 'x2', 'y2', 'legend2', 'b1', 1.8);
lineTrace('10/50/100ms - 500Kbps', jitter500k, '#00FF00', 'x2', 'y2', 'legend2', 'b2', 1.8);
lineTrace('10/50/100ms - 1Mbps', jitter1M, '#FF0000', 'x2', 'y2', 'legend2', 'b3', 1.8);

// Chart 3
const psnr10ms100k = psnrStart.concat(psnrUpperEarly, psnrMid, psnrLate10ms100k, psnrEnd);
const psnr500k = psnrStart.concat(psnrUpperEarly, psnrMid, psnrLate500k1M, psnrEnd);
const psnr1M = psnrStart.concat(psnrUpperEarly, psnrMid, psnrLate500k1M, psnrEnd);
const psnr50ms100k = psnrStart.concat(psnrDropEarly, psnrMid, psnrLate50ms100k, psnrEnd);
const psnr100ms100k = psnrStart.concat(psnrDropEarly, psnrMid, psnrLate100ms100k, psnrEnd);
lineTrace('10ms - 100Kbps', psnr10ms100k, '#000080', 'x3', 'y3', 'legend3', 'c1', 2);
lineTrace('10/50/100ms - 500Kbps', psnr500k, '#00FF00', 'x3', 'y3', 'legend3', 'c2', 2);
lineTrace('10/50/100ms - 1Mbps', psnr1M, '#FF0000', 'x3', 'y3', 'legend3', 'c3', 2, '4px,4px');
lineTrace('50ms - 100Kbps', psnr50ms100k, '#00FFFF', 'x3', 'y3', 'legend3', 'c4', 2);
lineTrace('100ms - 100Kbps', psnr100ms100k, '#008080', 'x3', 'y3', 'legend3', 'c5', 2);

const tickFont = { family: FONT, size: 10.5, color: '#000' };
function xAxis(domain, range, extra) {
  return Object.assign({
    domain: domain, range: range, dtick: 50, tick0: 0,
    showline: true, linecolor: '#000', linewidth: 1,
    ticks: 'outside', ticklen: 5, tickcolor: '#000', tickwidth: 1,
    ticklabelstandoff: 4,
    showgrid: false, zeroline: false, tickfont: tickFont, fixedrange: true
  }, extra);
}
function yAxis(domain, range, extra) {
  return Object.assign({
    domain: domain, range: range,
    showline: true, linecolor: '#000', linewidth: 1.2,
    ticks: 'outside', ticklen: 6, tickcolor: '#000', tickwidth: 1,
    showgrid: true, gridcolor: '#111', gridwidth: 1,
    zeroline: false, tickfont: tickFont, fixedrange: true
  }, extra);
}

const legendBase = {
  xanchor: 'left', yanchor: 'top', bgcolor: '#fff', bordercolor: '#000', borderwidth: 1,
  font: { family: FONT, size: 10.5, color: '#000' }, tracegroupgap: 2.2, traceorder: 'grouped',
  itemwidth: 30
};

const annFont = (sz, bold) => ({ family: FONT, size: sz, color: '#000', weight: bold ? 'bold' : 'normal' });
const annotations = [
  { text: 'End to End Delay (64Kbps Wired/Fixed Client)', x: PX(282), y: PY(32), font: annFont(13, true) },
  { text: 'End to End Jitter (64Kbps Wired/Fixed Client)', x: PX(833.5), y: PY(32), font: annFont(13, true) },
  { text: 'PSNR (64Kbps Wired/Fixed Client)', x: PX(282), y: PY(452), font: annFont(13, true) },
  { text: 'Frame', x: PX(274), y: PY(397), font: annFont(11.5, true) },
  { text: 'Frame', x: PX(827), y: PY(397), font: annFont(11.5, true) },
  { text: 'Frame', x: PX(269), y: PY(817), font: annFont(11.5, true) },
  { text: 'Time (secs)', x: PX(27), y: PY(227), textangle: -90, font: annFont(12.5, true) },
  { text: 'Time (secs)', x: PX(578.5), y: PY(227), textangle: -90, font: annFont(12.5, true) },
  { text: 'dB', x: PX(29), y: PY(638), textangle: -90, font: annFont(12, true) }
].map(a => Object.assign({ xref: 'paper', yref: 'paper', xanchor: 'center', yanchor: 'middle', showarrow: false }, a));

const shapes = [
  // chart frames
  { type: 'rect', xref: 'paper', yref: 'paper', x0: PX(9), x1: PX(553), y0: PY(419), y1: PY(10), line: { color: '#000', width: 1.2 } },
  { type: 'rect', xref: 'paper', yref: 'paper', x0: PX(561), x1: PX(1110), y0: PY(419), y1: PY(10), line: { color: '#000', width: 1.2 } },
  { type: 'rect', xref: 'paper', yref: 'paper', x0: PX(9), x1: PX(553), y0: PY(840), y1: PY(430), line: { color: '#000', width: 1.2 } },
  { type: 'line', xref: 'paper', yref: 'paper', x0: 0, x1: 1, y0: PY(421), y1: PY(421), line: { color: '#999', width: 1 } },
  // plot-area borders
  { type: 'rect', xref: 'x domain', yref: 'y domain', x0: 0, x1: 1, y0: 0, y1: 1, line: { color: '#808080', width: 1 }, layer: 'below' },
  { type: 'rect', xref: 'x2 domain', yref: 'y2 domain', x0: 0, x1: 1, y0: 0, y1: 1, line: { color: '#808080', width: 1 }, layer: 'below' },
  { type: 'rect', xref: 'x3 domain', yref: 'y3 domain', x0: 0, x1: 1, y0: 0, y1: 1, line: { color: '#808080', width: 1 }, layer: 'below' }
];

const layout = {
  width: LW, height: H,
  margin: { l: 0, r: 0, t: 0, b: 0, pad: 0, autoexpand: false },
  paper_bgcolor: '#fff', plot_bgcolor: '#fff',
  font: { family: FONT, color: '#000' },
  showlegend: true, hovermode: false,
  xaxis: xAxis([PX(55.3), PX(492.3)], [0, 500], { anchor: 'free', position: PY(337.7) }),
  yaxis: yAxis([PY(375.2), PY(75.2)], [-0.5, 3.5], { anchor: 'x', tickvals: delayYTicks, ticktext: delayYLabels }),
  xaxis2: xAxis([PX(607.3), PX(1047.4)], [0, 500], { anchor: 'free', position: PY(332.3) }),
  yaxis2: yAxis([PY(375), PY(76)], [-0.1, 0.6], { anchor: 'x2', tickvals: jitterYTicks, ticktext: jitterYLabels }),
  xaxis3: xAxis([PX(49.7), PX(487.7)], [0, 450], { anchor: 'y3' }),
  yaxis3: yAxis([PY(775), PY(495.7)], [0, 45], { anchor: 'x3', dtick: 5, tick0: 0 }),
  legend: Object.assign({}, legendBase, { x: PX(446), y: PY(129) }),
  legend2: Object.assign({}, legendBase, { x: PX(982), y: PY(149) }),
  legend3: Object.assign({}, legendBase, { x: PX(418), y: PY(607) }),
  annotations: annotations,
  shapes: shapes
};

Plotly.newPlot('chart', traces, layout, { staticPlot: true, displayModeBar: false });

const para = document.getElementById('para');
paragraphLines.forEach(t => {
  const d = document.createElement('div');
  d.className = 'ln';
  d.textContent = t;
  para.appendChild(d);
});
</script>
</body>
</html>
